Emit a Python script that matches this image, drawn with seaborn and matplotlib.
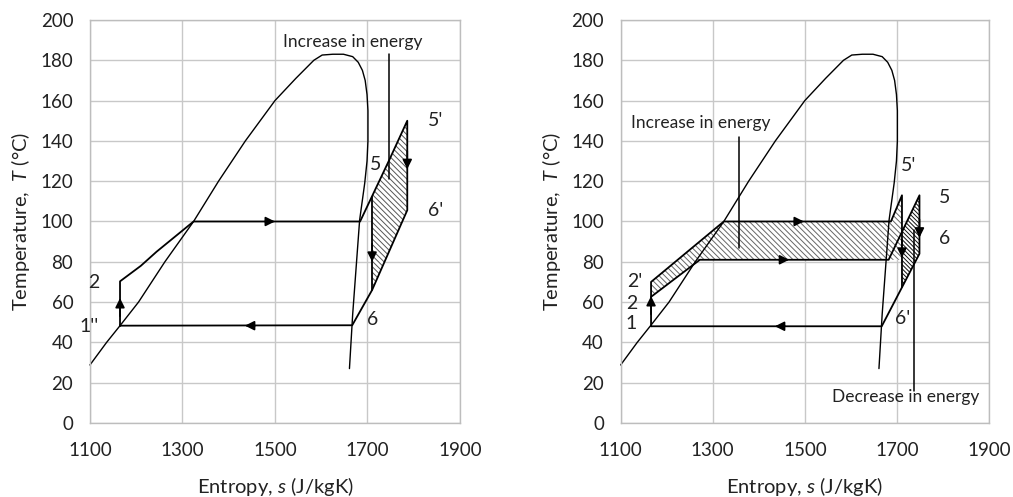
import numpy as np
import pandas as pd
import matplotlib
matplotlib.use("Agg")
import matplotlib.pyplot as plt
import seaborn as sns

# ---------------- data ----------------
dome_s = [1100, 1136, 1165, 1205, 1262, 1324, 1378, 1436, 1500, 1545, 1584, 1602, 1625, 1648, 1668, 1680,
          1689, 1695, 1699, 1701, 1701, 1699, 1694, 1683, 1668, 1661]
dome_T = [28.8, 40, 48.3, 60, 80, 100, 120, 140, 160, 171, 180, 182.6, 183, 183, 181.8, 179,
          175, 170, 163, 155, 140, 130, 119, 100.7, 54, 27]

# left panel cycle
cycL_s = [1165, 1165, 1210, 1244, 1324, 1684, 1747, 1786, 1786, 1710, 1667, 1165]
cycL_T = [48.3, 70.3, 78, 85, 100, 100, 130.5, 150, 105.6, 66, 48.5, 48.3]
expL_s = [1710, 1710]
expL_T = [112, 66]
hatchL_s = [1710, 1786, 1786, 1710]
hatchL_T = [112, 150, 105.6, 66]
ptrL_s = [1747, 1747]
ptrL_T = [183, 121]

# right panel cycles
upR_s = [1166, 1166, 1324, 1687, 1711, 1711]
upR_T = [48, 70, 100, 100, 113, 67.5]
loR_s = [1166, 1272, 1682, 1749, 1749, 1667, 1166]
loR_T = [62.6, 81, 81, 113, 84, 48, 48]
lightR_s = [1166, 1324, 1687, 1711, 1711, 1682, 1272, 1166]
lightR_T = [70, 100, 100, 113, 81, 81, 81, 62.6]
darkR_s = [1711, 1749, 1749, 1711]
darkR_T = [95, 113, 84, 67.5]
ptrR1_s = [1358, 1358]
ptrR1_T = [142, 87]
ptrR2_s = [1738, 1738]
ptrR2_T = [96, 16]

# arrows: (s, T, ds, dT)
arrowsL = [(1478, 100, 22, 0), (1457, 48.3, -22, 0), (1165, 53, 0, 9), (1786, 135, 0, -9), (1710, 89, 0, -9)]
arrowsR = [(1476, 100, 22, 0), (1444, 81, 22, 0), (1457, 48, -22, 0), (1166, 54, 0, 9), (1711, 91, 0, -9), (1749, 101, 0, -9)]

labelsL = [("5'", 1848, 150), ("5", 1717, 128.5), ("6'", 1848, 105.6), ("6", 1712, 51.5), ("2", 1109, 69.5), ("1''", 1099, 48)]
labelsR = [("2'", 1131, 70), ("2", 1124, 59.4), ("1", 1123, 49.4), ("5'", 1725, 127.7), ("5", 1803, 112), ("6", 1804, 91.6), ("6'", 1712, 52)]

x_ticks = [1100, 1300, 1500, 1700, 1900]
y_ticks = list(range(0, 201, 20))

# ---------------- style ----------------
sns.set_theme(style="whitegrid")
plt.rcParams['font.family'] = ['Lato', 'DejaVu Sans']
plt.rcParams['mathtext.fontset'] = 'custom'
plt.rcParams['mathtext.it'] = 'Lato:italic'
plt.rcParams['mathtext.rm'] = 'Lato'
plt.rcParams['hatch.linewidth'] = 0.7

fig = plt.figure(figsize=(10.13, 4.97), dpi=100)
axL = fig.add_axes([0.0888, 0.1489, 0.3653, 0.8109])
axR = fig.add_axes([0.6127, 0.1489, 0.3636, 0.8109])

TXT = '#222222'


def style_axis(ax):
    ax.set_xlim(1100, 1900)
    ax.set_ylim(0, 200)
    ax.set_xticks(x_ticks)
    ax.set_yticks(y_ticks)
    ax.grid(True, color='#c8c8c8', lw=1.0)
    for sp in ax.spines.values():
        sp.set_color('#bdbdbd')
        sp.set_linewidth(1.0)
    ax.tick_params(axis='both', length=0, labelsize=13.5, colors=TXT)
    ax.tick_params(axis='x', pad=14)
    ax.tick_params(axis='y', pad=12)
    ax.set_xlabel("Entropy, $\\it{s}$ (J/kgK)", fontsize=14.5, color=TXT, labelpad=11)
    ax.set_ylabel("Temperature,  $\\it{T}$ (°C)", fontsize=14.5, color=TXT, labelpad=6)
    ax.set_facecolor('white')


def line(ax, s, T, lw=1.3):
    df = pd.DataFrame({'s': s, 'T': T})
    sns.lineplot(data=df, x='s', y='T', sort=False, estimator=None, ax=ax,
                 color='black', lw=lw, clip_on=False)


def arrows(ax, arr):
    for s, T, ds, dT in arr:
        ax.annotate('', xy=(s + ds, T + dT), xytext=(s, T),
                    arrowprops=dict(arrowstyle='-|>', color='black', lw=1.2,
                                    mutation_scale=14, shrinkA=0, shrinkB=0))


for ax in (axL, axR):
    style_axis(ax)
    line(ax, dome_s, dome_T, lw=1.0)

# left
axL.fill(hatchL_s, hatchL_T, facecolor='white', edgecolor='#555555', hatch='\\\\\\\\\\\\', lw=0)
line(axL, cycL_s, cycL_T)
line(axL, expL_s, expL_T)
line(axL, ptrL_s, ptrL_T, lw=1.1)
arrows(axL, arrowsL)
axL.text(1668, 189, "Increase in energy", ha='center', va='center', fontsize=12.5, color=TXT)
for t, s, T in labelsL:
    axL.text(s, T, t, ha='center', va='center', fontsize=14, color=TXT, clip_on=False)

# right
axR.fill(lightR_s, lightR_T, facecolor='white', edgecolor='#666666', hatch='\\\\\\\\\\\\', lw=0)
axR.fill(darkR_s, darkR_T, facecolor='white', edgecolor='#111111', hatch='\\\\\\\\\\\\\\\\', lw=0)
line(axR, upR_s, upR_T)
line(axR, loR_s, loR_T)
line(axR, ptrR1_s, ptrR1_T, lw=1.1)
line(axR, ptrR2_s, ptrR2_T, lw=1.1)
arrows(axR, arrowsR)
axR.text(1273, 148.7, "Increase in energy", ha='center', va='center', fontsize=12.5, color=TXT)
axR.text(1718, 12.9, "Decrease in energy", ha='center', va='center', fontsize=12.5, color=TXT)
for t, s, T in labelsR:
    axR.text(s, T, t, ha='center', va='center', fontsize=14, color=TXT, clip_on=False)

fig.savefig("out.png", dpi=100, facecolor='white')
